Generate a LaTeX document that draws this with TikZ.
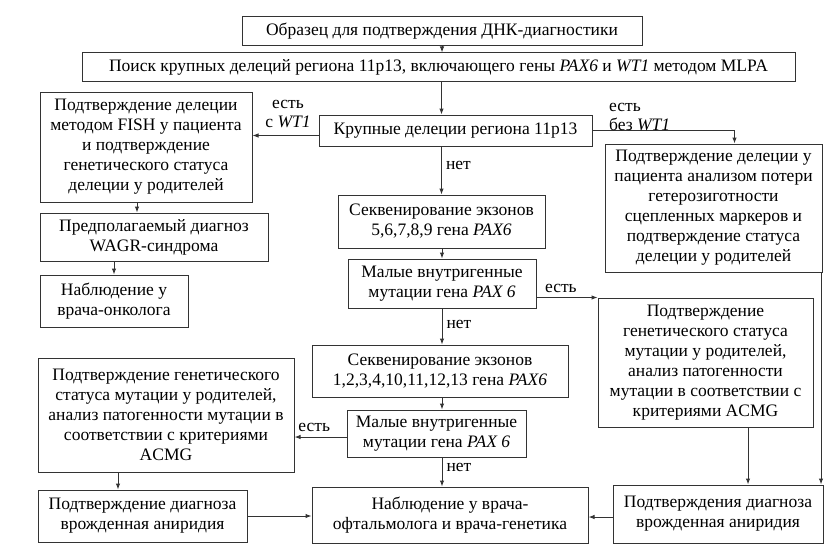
\documentclass[tikz,border=0pt]{standalone}
\usepackage{fontspec}
\setmainfont{Liberation Serif}
\usetikzlibrary{arrows.meta}
\tikzset{
  box/.style={draw=black!80, line width=1pt, inner sep=0pt, align=center, font=\fontsize{17.5}{20}\selectfont, text=black},
  lab/.style={inner sep=0pt, font=\fontsize{17.5}{19}\selectfont, text=black},
  arr/.style={draw=black!80, line width=1pt, -{Latex[length=6pt,width=4.5pt]}}
}
\begin{document}
\begin{tikzpicture}[x=1pt,y=-1pt]
\useasboundingbox (0,0) rectangle (832,551);
\node[box, minimum width=400pt, minimum height=29pt] (b1) at (442,31.5) {Образец для подтверждения ДНК-диагностики};
\node[box, minimum width=713pt, minimum height=28pt] (b2) at (438.5,67) {Поиск крупных делеций региона 11p13, включающего гены \textit{PAX6} и \textit{WT1} методом MLPA};
\node[box, minimum width=273pt, minimum height=31pt] (b3) at (455.5,130.5) {Крупные делеции региона 11p13};
\node[box, minimum width=212pt, minimum height=110pt] (b4) at (146,147) {Подтверждение делеции\\методом FISH у пациента\\и подтверждение\\генетического статуса\\делеции у родителей};
\node[box, minimum width=217pt, minimum height=128pt] (b5) at (713.5,208) {Подтверждение делеции у\\пациента анализом потери\\гетерозиготности\\сцепленных маркеров и\\подтверждение статуса\\делеции у родителей};
\node[box, minimum width=207pt, minimum height=53pt] (b6) at (441.5,221.5) {Секвенирование экзонов\\5,6,7,8,9 гена \textit{PAX6}};
\node[box, minimum width=188pt, minimum height=49pt] (b7) at (442,283.5) {Малые внутригенные\\мутации гена \textit{PAX 6}};
\node[box, minimum width=215pt, minimum height=129pt] (b8) at (705.5,362.5) {Подтверждение\\генетического статуса\\мутации у родителей,\\анализ патогенности\\мутации в соответствии с\\критериями ACMG};
\node[box, minimum width=256pt, minimum height=52pt] (b9) at (440,371) {Секвенирование экзонов\\1,2,3,4,10,11,12,13 гена \textit{PAX6}};
\node[box, minimum width=179pt, minimum height=47pt] (b10) at (436.5,433.5) {Малые внутригенные\\мутации гена \textit{PAX 6}};
\node[box, minimum width=256pt, minimum height=114pt] (b11) at (166,415) {Подтверждение генетического\\статуса мутации у родителей,\\анализ патогенности мутации в\\соответствии с критериями\\ACMG};
\node[box, minimum width=276pt, minimum height=56pt] (b12) at (450,515) {Наблюдение у врача-\\офтальмолога и врача-генетика};
\node[box, minimum width=209pt, minimum height=52pt] (b13) at (142.5,516) {Подтверждение диагноза\\врожденная аниридия};
\node[box, minimum width=210pt, minimum height=58pt] (b14) at (718,514) {Подтверждения диагноза\\врожденная аниридия};
\node[box, minimum width=228pt, minimum height=48pt] (b15) at (154,237) {Предполагаемый диагноз\\WAGR-синдрома};
\node[box, minimum width=148pt, minimum height=52pt] (b16) at (114,301) {Наблюдение у\\врача-онколога};

% connectors
\draw[arr] (b1.south) -- (b1.south |- b2.north);
\draw[arr] (b2.south -| b6) -- (b3.north -| b6);
\draw[arr] (b3.south -| b6) -- node[lab, right=4pt, pos=0.4] (l1) {нет} (b6.north);
\draw[arr] (b6.south -| b7) -- (b7.north);
\draw[arr] (b7.south) -- node[lab, right=4pt, pos=0.45] (l2) {нет} (b7.south |- b9.north);
\draw[arr] (b9.south -| b7) -- (b10.north -| b7);
\draw[arr] (b10.south -| b7) -- node[lab, right=4pt, pos=0.35] (l3) {нет} (b12.north -| b7);

\draw[arr] ([yshift=-5pt]b3.west) -- ([yshift=-5pt]b3.west -| b4.east);
\node[lab, align=center] (l4) at (288,114) {есть\\с \textit{WT1}};
\draw[arr] (b3.east) -| ([xshift=21pt]b5.north);
\node[lab, align=left, anchor=west] (l5) at (609,117) {есть\\без \textit{WT1}};

\draw[arr] ([xshift=-9pt]b4.south) -- ([xshift=-9pt]b4.south |- b15.north);
\draw[arr] (b16.north |- b15.south) -- (b16.north);

\draw[arr] ([yshift=-14pt]b7.east) -- node[lab, above=4pt, pos=0.4] (l6) {есть} ([yshift=-14pt]b7.east -| b8.west);
\draw[arr] ([yshift=-3.5pt]b10.west) -- node[lab, above=5pt, pos=0.62] (l7) {есть} ([yshift=-3.5pt]b10.west -| b11.east);

\draw[arr] ([xshift=-24.5pt]b13.north |- b11.south) -- ([xshift=-24.5pt]b13.north);
\draw[arr] (b13.east) -- (b13.east -| b12.west);
\draw[arr] ([yshift=-3pt]b14.west) -- ([yshift=-3pt]b14.west -| b12.east);
\draw[arr] ([xshift=30pt]b14.north |- b8.south) -- ([xshift=30pt]b14.north);
\draw[arr] ([xshift=103pt]b14.north |- b5.south) -- ([xshift=103pt]b14.north);
\end{tikzpicture}
\end{document}
